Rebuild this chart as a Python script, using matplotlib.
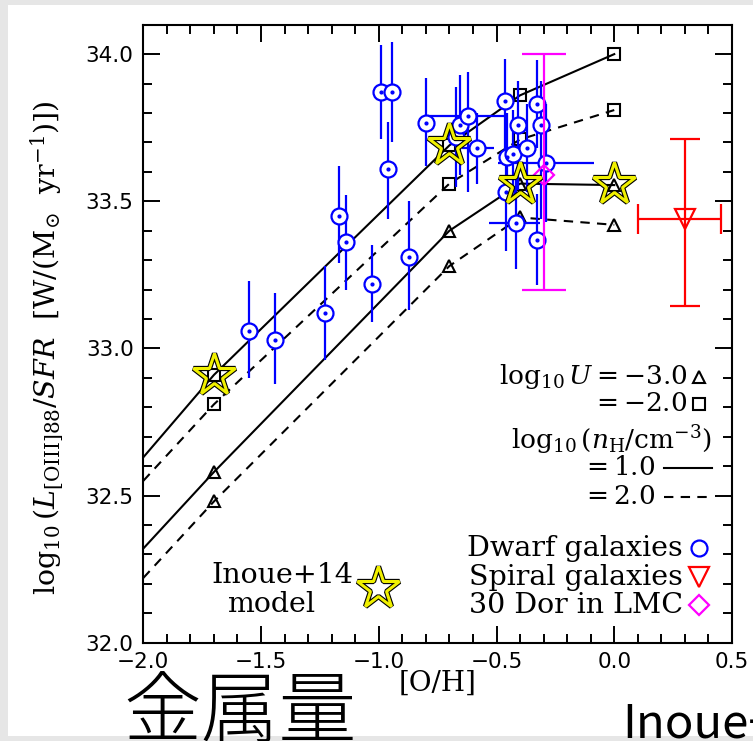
import matplotlib
matplotlib.use('Agg')
import matplotlib.pyplot as plt
from matplotlib.patches import Rectangle
from matplotlib.lines import Line2D
from matplotlib.ticker import MultipleLocator, FixedLocator

# ---------------- data ----------------
# model curves (first vertex is the left edge of the plot, the rest are grid points)
model_oh = [-2.0, -1.7, -0.7, -0.4, 0.0]
u2_n1 = [32.63, 32.91, 33.69, 33.86, 34.00]
u2_n2 = [32.55, 32.81, 33.56, 33.71, 33.81]
u3_n1 = [32.32, 32.58, 33.40, 33.56, 33.555]
u3_n2 = [32.22, 32.48, 33.28, 33.445, 33.42]

# Inoue+14 model stars
inoue_oh = [-1.7, -0.7, -0.4, 0.0]
inoue_l = [32.91, 33.69, 33.56, 33.56]

# dwarf galaxies
dw_oh = [-1.55, -1.44, -1.23, -1.17, -1.14, -1.03, -0.99, -0.945, -0.96, -0.87,
         -0.80, -0.67, -0.655, -0.62, -0.585, -0.464, -0.455, -0.43, -0.46, -0.41,
         -0.37, -0.417, -0.327, -0.31, -0.29, -0.327]
dw_l = [33.06, 33.03, 33.12, 33.45, 33.36, 33.22, 33.87, 33.87, 33.61, 33.31,
        33.765, 33.72, 33.76, 33.79, 33.68, 33.84, 33.65, 33.66, 33.53, 33.76,
        33.68, 33.425, 33.83, 33.76, 33.63, 33.37]
dw_yerr_lo = [0.16, 0.15, 0.16, 0.16, 0.16, 0.13, 0.16, 0.17, 0.17, 0.18,
              0.145, 0.17, 0.17, 0.26, 0.12, 0.21, 0.15, 0.15, 0.20, 0.22,
              0.15, 0.155, 0.15, 0.32, 0.20, 0.155]
dw_yerr_hi = [0.17, 0.16, 0.16, 0.17, 0.16, 0.13, 0.16, 0.17, 0.16, 0.19,
              0.155, 0.17, 0.17, 0.15, 0.12, 0.145, 0.15, 0.15, 0.12, 0.15,
              0.15, 0.155, 0.15, 0.15, 0.20, 0.155]
dw_xerr_lo = [0, 0, 0, 0, 0, 0, 0, 0, 0, 0,
              0, 0, 0, 0.17, 0.06, 0, 0, 0, 0, 0,
              0, 0.113, 0, 0, 0.205, 0]
dw_xerr_hi = [0, 0, 0, 0, 0, 0, 0, 0, 0, 0,
              0, 0, 0, 0.17, 0.075, 0, 0, 0, 0, 0,
              0, 0.10, 0, 0, 0.205, 0]

# spiral galaxies
sp_oh = [0.30]
sp_l = [33.44]
sp_xerr = [[0.198], [0.153]]
sp_yerr = [[0.295], [0.27]]

# 30 Dor in LMC
dor_oh = [-0.30]
dor_l = [33.59]
dor_yerr = [[0.39], [0.41]]

xticks = [-2.0, -1.5, -1.0, -0.5, 0.0, 0.5]
xticklabels = ['\u22122.0', '\u22121.5', '\u22121.0', '\u22120.5', '0.0', '0.5']
yticks = [32.0, 32.5, 33.0, 33.5, 34.0]
yticklabels = ['32.0', '32.5', '33.0', '33.5', '34.0']

# ---------------- style ----------------
plt.rcParams['mathtext.fontset'] = 'dejavuserif'
W, H = 753, 741
fig = plt.figure(figsize=(W / 100, H / 100), dpi=100)
fig.patch.set_facecolor('#e6e6e6')
fig.add_artist(Rectangle((8 / W, 5 / H), 1 - 8 / W, 1 - 10 / H, transform=fig.transFigure,
                         facecolor='white', edgecolor='none', zorder=0))

ax = fig.add_axes([143.3 / W, 1 - 642.7 / H, 588.7 / W, 618 / H])
ax.set_xlim(-2.0, 0.5)
ax.set_ylim(32.0, 34.1)

serif = 'DejaVu Serif'
BLUE = '#0000ff'
lw_model = 1.5

# model lines
ax.plot(model_oh, u2_n1, color='black', lw=lw_model, zorder=2)
ax.plot(model_oh, u3_n1, color='black', lw=lw_model, zorder=2)
ax.plot(model_oh, u2_n2, color='black', lw=lw_model, dashes=(4.5, 3.5), zorder=2)
ax.plot(model_oh, u3_n2, color='black', lw=lw_model, dashes=(4.5, 3.5), zorder=2)
for ys in (u2_n1, u2_n2):
    ax.plot(model_oh[1:], ys[1:], ls='none', marker='s', ms=8, mfc='none',
            mec='black', mew=1.5, zorder=3)
for ys in (u3_n1, u3_n2):
    ax.plot(model_oh[1:], ys[1:], ls='none', marker='^', ms=8, mfc='none',
            mec='black', mew=1.5, zorder=3)

# dwarf galaxies
ax.errorbar(dw_oh, dw_l, yerr=[dw_yerr_lo, dw_yerr_hi], xerr=[dw_xerr_lo, dw_xerr_hi],
            fmt='none', ecolor=BLUE, elinewidth=1.6, capsize=0, zorder=4)
ax.plot(dw_oh, dw_l, ls='none', marker='o', ms=11.5, mfc='white', mec=BLUE,
        mew=1.6, zorder=5)
ax.plot(dw_oh, dw_l, ls='none', marker='o', ms=2, mfc=BLUE, mec=BLUE, zorder=5)

# 30 Dor
ax.errorbar(dor_oh, dor_l, yerr=dor_yerr, fmt='none', ecolor='#ff00ff',
            elinewidth=1.6, capsize=16, capthick=1.6, zorder=6)
ax.plot(dor_oh, dor_l, ls='none', marker='D', ms=10, mfc='none', mec='#ff00ff',
        mew=1.6, zorder=6)

# spiral galaxies
ax.errorbar(sp_oh, sp_l, xerr=sp_xerr, yerr=sp_yerr, fmt='none', ecolor='#ff0000',
            elinewidth=1.6, capsize=10.5, capthick=1.6, zorder=6)
ax.plot(sp_oh, sp_l, ls='none', marker='v', ms=14.5, mfc='none', mec='#ff0000',
        mew=1.6, zorder=6)

# Inoue+14 stars
ax.plot(inoue_oh, inoue_l, ls='none', marker='*', ms=32, mfc='none', mec='black',
        mew=3.8, zorder=7)
ax.plot(inoue_oh, inoue_l, ls='none', marker='*', ms=32, mfc='none', mec='#f0f000',
        mew=2.2, zorder=8)

# axes styling
for s in ax.spines.values():
    s.set_linewidth(1.5)
ax.xaxis.set_major_locator(FixedLocator(xticks))
ax.yaxis.set_major_locator(FixedLocator(yticks))
ax.set_xticklabels(xticklabels)
ax.set_yticklabels(yticklabels)
ax.xaxis.set_minor_locator(MultipleLocator(0.1))
ax.yaxis.set_minor_locator(MultipleLocator(0.1))
ax.tick_params(which='both', direction='in', top=True, right=True, width=1.4)
ax.tick_params(which='major', length=12)
ax.tick_params(which='minor', length=6.5)
ax.tick_params(axis='both', which='major', labelsize=15.5, pad=7)
for lab in ax.get_xticklabels() + ax.get_yticklabels():
    lab.set_family('DejaVu Sans')

ax.set_xlabel('[O/H]', fontsize=20, family=serif)
ax.xaxis.set_label_coords(0.5, -0.066)
ax.xaxis.label.set_va('center')
ax.set_ylabel(r'$\log_{10}(L_{\mathrm{[OIII]88}}/SFR\ \ [\mathrm{W/(M_{\odot}\ \ yr^{-1})}])$',
              fontsize=20.5)
ax.yaxis.set_label_coords(-0.165, 0.477)
ax.yaxis.label.set_va('center')

# legend-like annotations (axes fraction)
T = ax.transAxes
fs = 19
fs2 = 20.5
ax.text(0.925, 0.43, r'$\log_{10}U=-3.0$', transform=T, ha='right', va='center', fontsize=fs)
ax.add_line(Line2D([0.9435], [0.43], transform=T, marker='^', ms=8, mfc='none', mec='black', mew=1.5, ls='none'))
ax.text(0.925, 0.386, r'$=-2.0$', transform=T, ha='right', va='center', fontsize=fs)
ax.add_line(Line2D([0.9435], [0.386], transform=T, marker='s', ms=8, mfc='none', mec='black', mew=1.5, ls='none'))
ax.text(0.966, 0.328, r'$\log_{10}(n_{\mathrm{H}}/\mathrm{cm}^{-3})$', transform=T, ha='right', va='center', fontsize=fs)
ax.text(0.869, 0.283, r'$=1.0$', transform=T, ha='right', va='center', fontsize=fs)
ax.add_line(Line2D([0.884, 0.966], [0.283, 0.283], transform=T, color='black', lw=lw_model))
ax.text(0.869, 0.236, r'$=2.0$', transform=T, ha='right', va='center', fontsize=fs)
ax.add_line(Line2D([0.884, 0.966], [0.236, 0.236], transform=T, color='black', lw=lw_model, dashes=(4.5, 3.5)))

ax.text(0.917, 0.153, 'Dwarf galaxies', transform=T, ha='right', va='center', fontsize=fs2, family=serif)
ax.add_line(Line2D([0.9435], [0.153], transform=T, marker='o', ms=11.5, mfc='none', mec=BLUE, mew=1.6, ls='none'))
ax.text(0.917, 0.106, 'Spiral galaxies', transform=T, ha='right', va='center', fontsize=fs2, family=serif)
ax.add_line(Line2D([0.9435], [0.106], transform=T, marker='v', ms=14.5, mfc='none', mec='#ff0000', mew=1.6, ls='none'))
ax.text(0.917, 0.061, '30 Dor in LMC', transform=T, ha='right', va='center', fontsize=fs2, family=serif)
ax.add_line(Line2D([0.9435], [0.061], transform=T, marker='D', ms=10, mfc='none', mec='#ff00ff', mew=1.6, ls='none'))

ax.text(0.2355, 0.108, 'Inoue+14', transform=T, ha='center', va='center', fontsize=fs2, family=serif)
ax.text(0.217, 0.062, 'model', transform=T, ha='center', va='center', fontsize=fs2, family=serif)
ax.add_line(Line2D([0.3985], [0.0885], transform=T, marker='*', ms=32, mfc='none', mec='black', mew=3.8, ls='none'))
ax.add_line(Line2D([0.3985], [0.0885], transform=T, marker='*', ms=32, mfc='none', mec='#f0f000', mew=2.2, ls='none'))

# slide overlay texts (cut off at the slide edge, as in the reference)
fig.text(123 / W, 1 - 736 / H, '金属量', fontsize=56, family=['Noto Sans CJK JP', 'DejaVu Sans'],
         ha='left', va='baseline', weight='light', zorder=20)
fig.text(622 / W, 1 - 738 / H, 'Inoue+14', fontsize=34, family=['Noto Sans CJK JP', 'DejaVu Sans'],
         ha='left', va='baseline', zorder=20)

fig.savefig('out.png', dpi=100, facecolor=fig.get_facecolor())
